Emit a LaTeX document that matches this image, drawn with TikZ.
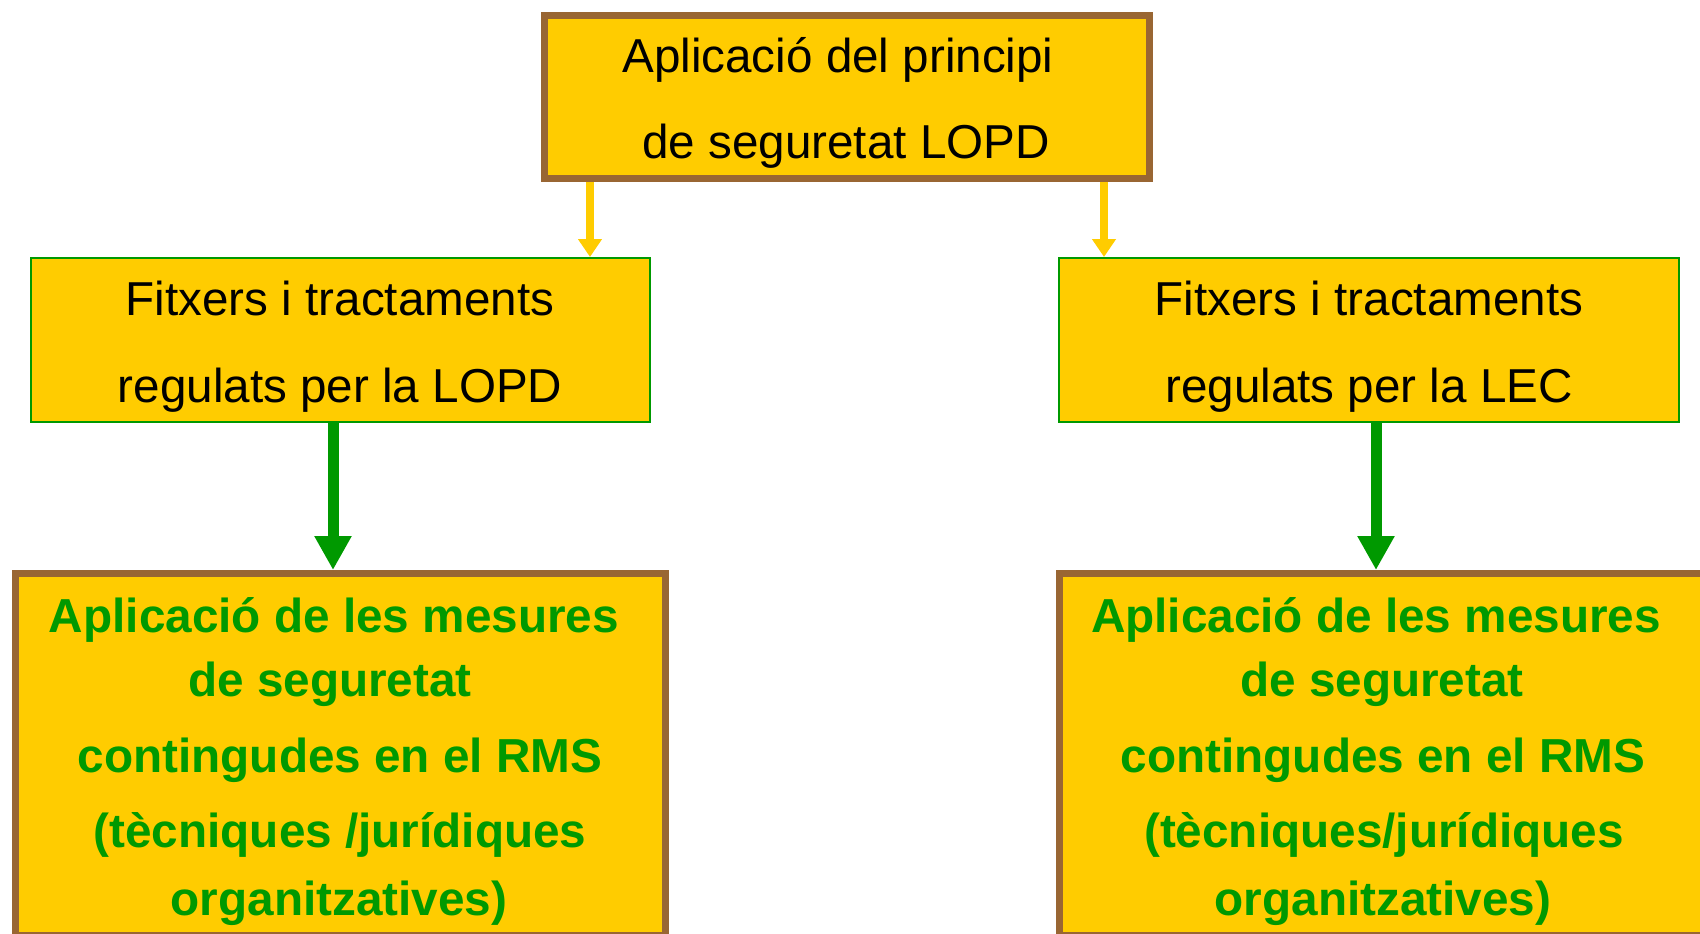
\documentclass[tikz,border=0pt]{standalone}
\usepackage{fontspec}
\setmainfont{Liberation Sans}
\usetikzlibrary{arrows.meta}
\definecolor{boxyellow}{HTML}{FFCC00}
\definecolor{boxbrown}{HTML}{996633}
\definecolor{darkgreen}{HTML}{009900}
\begin{document}
\begin{tikzpicture}[x=1pt,y=-1pt,
  thickbox/.style={draw=boxbrown,line width=7pt,fill=boxyellow,inner sep=0pt},
  thinbox/.style={draw=darkgreen,line width=2pt,fill=boxyellow,inner sep=0pt},
  plaintext/.style={anchor=base,inner sep=0pt,font=\fontsize{47.6}{57}\selectfont,text=black},
  greentext/.style={anchor=base,inner sep=0pt,font=\fontsize{47.7}{57}\selectfont\bfseries,text=darkgreen},
  yarrow/.style={draw=boxyellow,line width=8pt,-{Triangle[width=23pt,length=18pt]}},
  garrow/.style={draw=darkgreen,line width=11pt,-{Triangle[width=35pt,length=34pt]}}]
\useasboundingbox (0,0) rectangle (1700,934);
% boxes
\node[thickbox,minimum width=605pt,minimum height=163pt] (top) at (847,97) {};
\node[thinbox,minimum width=619pt,minimum height=164pt] (lmid) at (340.5,340) {};
\node[thinbox,minimum width=620pt,minimum height=164pt] (rmid) at (1369,340) {};
\node[thickbox,minimum width=650pt,minimum height=362pt] (lbot) at (340.5,754.5) {};
\node[thickbox,minimum width=700pt,minimum height=362pt] (rbot) at (1409.5,754.5) {};
% connector columns
\coordinate (ya) at (590,0);
\coordinate (yb) at (1104,0);
\coordinate (ga) at (333,0);
\coordinate (gb) at (1376,0);
% connectors
\draw[yarrow] (top.south -| ya) -- (lmid.north -| ya);
\draw[yarrow] (top.south -| yb) -- (rmid.north -| yb);
\draw[garrow] (lmid.south -| ga) -- (lbot.north -| ga);
\draw[garrow] (rmid.south -| gb) -- (rbot.north -| gb);
% texts
\node[plaintext] (top1) at (838,73) {Aplicació del principi};
\node[plaintext] (top2) at (846,158) {de seguretat LOPD};
\node[plaintext] (lm1) at (340,315) {Fitxers i tractaments};
\node[plaintext] (lm2) at (340,402) {regulats per la LOPD};
\node[plaintext] (rm1) at (1369,315) {Fitxers i tractaments};
\node[plaintext] (rm2) at (1369,402) {regulats per la LEC};
\node[greentext] (lb1) at (334,632) {Aplicació de les mesures};
\node[greentext] (lb2) at (330,696) {de seguretat};
\node[greentext] (lb3) at (340,772) {contingudes en el RMS};
\node[greentext] (lb4) at (340,847) {(tècniques /jurídiques};
\node[greentext] (lb5) at (339,915) {organitzatives)};
\node[greentext] (rb1) at (1376,632) {Aplicació de les mesures};
\node[greentext] (rb2) at (1382,696) {de seguretat};
\node[greentext] (rb3) at (1383,772) {contingudes en el RMS};
\node[greentext] (rb4) at (1384,847) {(tècniques/jurídiques};
\node[greentext] (rb5) at (1383,915) {organitzatives)};
\end{tikzpicture}
\end{document}
